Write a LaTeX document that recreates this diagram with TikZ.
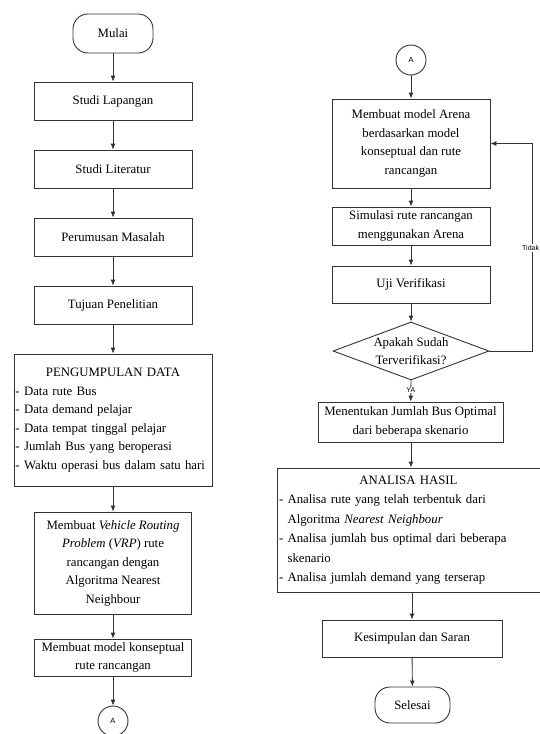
\documentclass[tikz,border=0pt]{standalone}
\usepackage{fontspec}
\setmainfont{Liberation Serif}
\newfontfamily\kecil{Liberation Sans}
\usetikzlibrary{shapes.geometric,arrows.meta}
\newcommand{\teks}{\fontsize{12.8}{18.5}\selectfont}

\begin{document}
\begin{tikzpicture}[x=1pt, y=-1pt,
    kotak/.style={draw=black!80, line width=0.9pt, rectangle, align=center,
      minimum width=158pt, minimum height=38pt, inner sep=2pt, font=\teks},
    ujung/.style={kotak, rounded corners=15pt},
    sambung/.style={draw=black!80, line width=0.9pt, circle, minimum size=30pt,
      inner sep=0pt, font=\kecil\fontsize{7.5}{8}\selectfont},
    keputusan/.style={draw=black!80, line width=0.9pt, diamond, inner sep=0pt,
      minimum width=156pt, minimum height=58pt},
    ket/.style={font=\kecil\fontsize{7}{8}\selectfont, fill=white, inner sep=1pt},
    panah/.style={draw=black!80, line width=0.9pt, -{Latex[length=6pt,width=5pt]}}]
  \useasboundingbox (0,0) rectangle (540,734);
  % kolom kiri
  \node [ujung, minimum width=80pt, minimum height=39pt] (mulai) at (113,33.5) {Mulai};
  \node [kotak] (lapangan)  at (113,101) {Studi Lapangan};
  \node [kotak] (literatur) at (113,169) {Studi Literatur};
  \node [kotak] (rumusan)   at (113,237) {Perumusan Masalah};
  \node [kotak] (tujuan)    at (113,305) {Tujuan Penelitian};
  \node [kotak, text width=195pt, align=left, inner xsep=1.5pt, minimum height=132pt] (data) at (113,420)
    {{\centering PENGUMPULAN DATA\par}
     - Data rute Bus\\
     - Data demand pelajar\\
     - Data tempat tinggal pelajar\\
     - Jumlah Bus yang beroperasi\\
     - Waktu operasi bus dalam satu hari};
  \node [kotak, minimum width=157pt, minimum height=102pt] (vrp) at (113,563)
    {Membuat \textit{Vehicle Routing}\\ \textit{Problem} (\textit{VRP}) rute\\ rancangan dengan\\ Algoritma Nearest\\ Neighbour};
  \node [kotak, minimum width=157pt, minimum height=37pt] (konsep) at (113,657.5)
    {Membuat model konseptual\\ rute rancangan};
  \node [sambung] (a1) at (113,721) {A};
  % kolom kanan
  \node [sambung] (a2) at (411,60) {A};
  \node [kotak, minimum height=89pt] (arena) at (411,143.5)
    {Membuat model Arena\\ berdasarkan model\\ konseptual dan rute\\ rancangan};
  \node [kotak] (simulasi) at (411,226) {Simulasi rute rancangan\\ menggunakan Arena};
  \node [kotak, minimum height=37pt] (uji) at (411,284.5) {Uji Verifikasi};
  \node [keputusan] (cek) at (411,351) {};
  \node [font=\teks, align=center, inner sep=0pt] (cekteks) at (cek) {Apakah Sudah\\ Terverifikasi?};
  \node [kotak, minimum width=185pt, minimum height=40pt] (tentukan) at (410.5,422)
    {Menentukan Jumlah Bus Optimal\\ dari beberapa skenario};
  \node [kotak, text width=259pt, align=left, inner xsep=2pt, minimum height=124pt,
    font=\fontsize{12.8}{19.5}\selectfont] (analisa) at (408.5,530)
    {{\centering ANALISA HASIL\par}
     - Analisa rute yang telah terbentuk dari\\
     \phantom{- }Algoritma \textit{Nearest Neighbour}\\
     - Analisa jumlah bus optimal dari beberapa\\
     \phantom{- }skenario\\
     - Analisa jumlah demand yang terserap};
  \node [kotak, minimum width=180pt, minimum height=37pt] (simpulan) at (412,638.5) {Kesimpulan dan Saran};
  \node [ujung, minimum width=75pt, minimum height=36pt] (selesai) at (412.5,705) {Selesai};
  % panah kiri
  \draw [panah] (mulai) -- (lapangan);
  \draw [panah] (lapangan) -- (literatur);
  \draw [panah] (literatur) -- (rumusan);
  \draw [panah] (rumusan) -- (tujuan);
  \draw [panah] (tujuan) -- (data);
  \draw [panah] (data) -- (vrp);
  \draw [panah] (vrp) -- (konsep);
  \draw [panah] (konsep) -- (a1);
  % panah kanan
  \draw [panah] (a2) -- (arena);
  \draw [panah] (arena) -- (simulasi);
  \draw [panah] (simulasi) -- (uji);
  \draw [panah] (uji) -- (cek);
  \draw [panah] (cek.south) -- (tentukan) node [ket, pos=0.45] {YA};
  \draw [panah] (tentukan.south -| cek.south) -- (analisa.north -| cek.south);
  \draw [panah] (analisa.south -| simpulan.north) -- (simpulan);
  \draw [panah] (simpulan) -- (selesai);
  % balik ke Arena
  \coordinate (belok) at (532,351);
  \draw [panah] (cek.east) -- (belok) |- (arena.east);
  \node [ket, anchor=west] (tidak) at (521,248) {Tidak};
\end{tikzpicture}
\end{document}
